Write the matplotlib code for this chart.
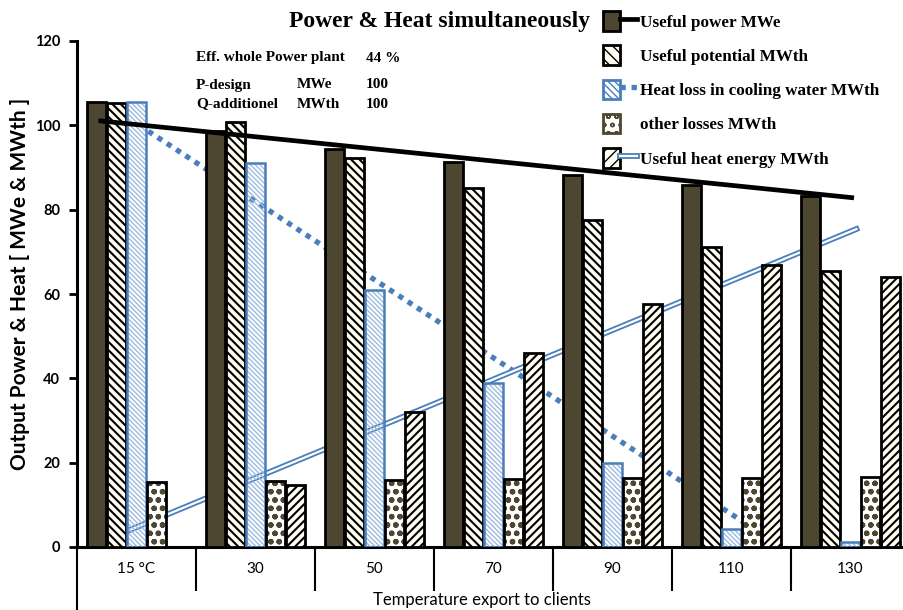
import matplotlib
matplotlib.use("Agg")
import matplotlib.pyplot as plt
import matplotlib.patches as mpatches
import matplotlib.patheffects as pe
from matplotlib.lines import Line2D
from matplotlib.legend_handler import HandlerTuple
import numpy as np

# data
temps = ["15 °C", "30", "50", "70", "90", "110", "130"]
useful_power = [105.5, 98.6, 94.4, 91.3, 88.2, 85.8, 83.2]
useful_potential = [105.3, 100.8, 92.2, 85.1, 77.5, 71.1, 65.4]
heat_loss_cooling = [105.5, 91.0, 61.0, 38.9, 19.9, 4.3, 1.3]
other_losses = [15.4, 15.6, 16.0, 16.2, 16.3, 16.4, 16.5]
useful_heat = [0.0, 14.7, 32.0, 46.0, 57.6, 66.9, 64.0]

# trend lines (end points)
power_line_x = [-0.32, 6.03]
power_line_y = [101.1, 82.8]
loss_line_x = [0.1, 5.42]
loss_line_y = [98.6, 0.0]
heat_line_x = [-0.06, 6.05]
heat_line_y = [4.0, 75.4]

olive = "#4d4631"
blue = "#4a7ebb"
lightblue = "#9dbbe0"
cream = "#fffdf2"

sans = "Lato"
serif = "Liberation Serif"
hatch_pot = "\\" * 4
hatch_heat = "/" * 4
hatch_loss = "\\" * 7
hatch_dots = "oo"

fig = plt.figure(figsize=(9.04, 6.10), dpi=100)
ax = fig.add_axes([77/904, 63/610, 1 - 77/904, (547-41)/610])

x = np.arange(len(temps))
w = 0.16
offs = [-0.335, -0.168, 0.0, 0.168, 0.336]

with plt.rc_context({"hatch.linewidth": 1.5}):
    # useful power
    ax.bar(x + offs[0], useful_power, w, color=olive, edgecolor="black", linewidth=2.0, zorder=3)
    # useful potential
    ax.bar(x + offs[1], useful_potential, w, color=cream, edgecolor="black", hatch=hatch_pot,
           linewidth=2.0, zorder=3)
    # useful heat energy
    heat_x = [xi + offs[4] for xi, v in zip(x, useful_heat) if v > 0]
    heat_v = [v for v in useful_heat if v > 0]
    ax.bar(heat_x, heat_v, w, color=cream, edgecolor="black", hatch=hatch_heat, linewidth=2.0, zorder=3)
with plt.rc_context({"hatch.linewidth": 1.0}):
    # heat loss in cooling water (transparent fill)
    ax.bar(x + offs[2], heat_loss_cooling, w, color="none", edgecolor=lightblue, hatch=hatch_loss,
           linewidth=0, zorder=3)
ax.bar(x + offs[2], heat_loss_cooling, w, fill=False, edgecolor=blue, linewidth=1.8, zorder=3)
with plt.rc_context({"hatch.linewidth": 1.6}):
    # other losses
    ax.bar(x + offs[3], other_losses, w, color="white", edgecolor=olive, hatch=hatch_dots,
           linewidth=0, zorder=3)
ax.bar(x + offs[3], other_losses, w, fill=False, edgecolor="black", linewidth=2.0, zorder=3)

# lines
ax.plot(power_line_x, power_line_y, color="black", lw=3.4, solid_capstyle="butt", zorder=5)
ax.plot(loss_line_x, loss_line_y, color=blue, lw=3.8, linestyle=(0, (1, 1.1)),
        dash_capstyle="butt", zorder=2)
double_fx = [pe.withStroke(linewidth=4.2, foreground=blue)]
ax.plot(heat_line_x, heat_line_y, color="white", lw=1.6, zorder=2, path_effects=double_fx)

ax.set_xlim(-0.5, 6.45)
ax.set_ylim(0, 120)
ax.set_yticks(range(0, 121, 20))
for s in ["top", "right"]:
    ax.spines[s].set_visible(False)
ax.spines["left"].set_linewidth(2.2)
ax.spines["bottom"].set_linewidth(2.2)
ax.tick_params(axis="y", direction="out", length=6, width=2, labelsize=10.5, pad=6)
for t in ax.get_yticklabels():
    t.set_fontweight("bold")
    t.set_family(sans)

ax.set_xticks(x)
ax.set_xticklabels(temps, fontsize=11, family=sans)
ax.tick_params(axis="x", length=0, pad=11)
ax.set_xticks(np.arange(0.5, 6.5, 1), minor=True)
ax.tick_params(axis="x", which="minor", length=32, width=1.5, direction="out")
ax.plot([-0.5, -0.5], [0, -0.125], transform=ax.get_xaxis_transform(), color="black",
        lw=1.5, clip_on=False)

ax.set_xlabel("Temperature export to clients", fontsize=12, family=sans, va="center")
ax.xaxis.set_label_coords(0.49, -53/506)
ax.set_ylabel("Output Power & Heat [ MWe & MWth ]", fontsize=15, family=sans,
              fontweight="bold", va="center")
ax.yaxis.set_label_coords(-(77 - 20)/827, 0.52)

# title and notes
fig.text(440/904, 1 - 22/610, "Power & Heat simultaneously", ha="center", va="center",
         fontsize=17, fontweight="bold", family=serif)
notes = [("Eff. whole Power plant", "", "44 %", 58),
         ("P-design", "MWe", "100", 85),
         ("Q-additionel", "MWth", "100", 104)]
for a, b, c, yy in notes:
    fig.text(196/904, 1 - yy/610, a, fontsize=11, fontweight="bold", family=serif, va="center")
    fig.text(297/904, 1 - yy/610, b, fontsize=11, fontweight="bold", family=serif, va="center")
    fig.text(366/904, 1 - yy/610, c, fontsize=11, fontweight="bold", family=serif, va="center")

# legend
empty = Line2D([], [], color="none")
with plt.rc_context({"hatch.linewidth": 1.6}):
    p_power = mpatches.Patch(facecolor=olive, edgecolor="black", linewidth=2.0)
    p_pot = mpatches.Patch(facecolor=cream, edgecolor="black", hatch="\\" * 3, linewidth=2.0)
    p_heat = mpatches.Patch(facecolor=cream, edgecolor="black", hatch="/" * 3, linewidth=2.0)
with plt.rc_context({"hatch.linewidth": 1.0}):
    p_loss = mpatches.Patch(facecolor="white", edgecolor=blue, hatch="\\" * 5, linewidth=2.0)
with plt.rc_context({"hatch.linewidth": 1.6}):
    p_oth = mpatches.Patch(facecolor="white", edgecolor=olive, hatch="oo", linewidth=2.0)
h_power = (p_power, Line2D([], [], color="black", lw=3.4))
h_pot = (p_pot, empty)
h_loss = (p_loss, Line2D([], [], color=blue, lw=3.8, linestyle=(0, (1, 1.1)), dash_capstyle="butt"))
h_oth = (p_oth, empty)
h_heat = (p_heat, Line2D([], [], color="white", lw=1.6, path_effects=double_fx))
fig.legend([h_power, h_pot, h_loss, h_oth, h_heat],
           ["Useful power MWe", "Useful potential MWth", "Heat loss in cooling water MWth",
            "other losses MWth", "Useful heat energy MWth"],
           handler_map={tuple: HandlerTuple(ndivide=None, pad=0)},
           loc="upper left", bbox_to_anchor=(603/904, 1 - 11/610), frameon=False,
           prop={"family": serif, "weight": "bold", "size": 12.3},
           handlelength=2.0, handleheight=1.4, labelspacing=0.85, handletextpad=0.15,
           borderpad=0, borderaxespad=0)

fig.savefig("out.png", dpi=100)
